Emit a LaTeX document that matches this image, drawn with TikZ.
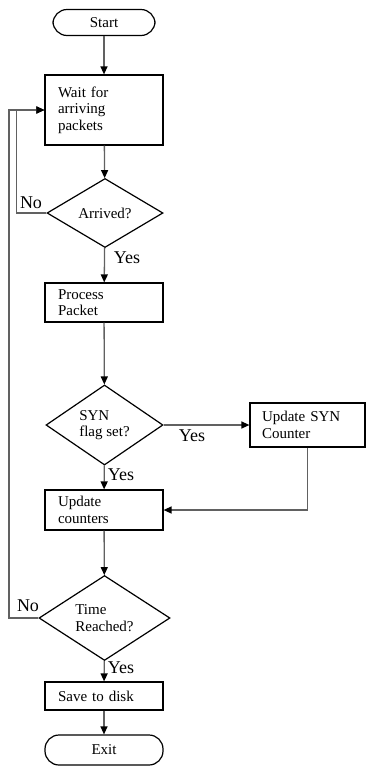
\documentclass[tikz,border=0pt]{standalone}
\usepackage{fontspec}
\setmainfont{Liberation Serif}
\usetikzlibrary{shapes.geometric,arrows.meta}

\tikzset{
  base/.style={draw=black, line width=1.2pt, inner sep=0pt, font=\fontsize{15}{16.5}\selectfont},
  procbox/.style={base, rectangle, minimum width=#1, align=left, text width=#1-26pt, inner xsep=13pt},
  term/.style={base, rectangle, rounded corners=14pt, minimum width=#1, align=center},
  decision/.style={base, diamond, align=center},
  flow/.style={draw=black!62, line width=1.3pt, -{Triangle[length=8pt,width=7pt,fill=black,color=black]}},
  ans/.style={inner sep=0pt, font=\fontsize{18}{20}\selectfont}
}

\begin{document}
\begin{tikzpicture}[x=1pt,y=-1pt]
\useasboundingbox (0,0) rectangle (366,769);

% nodes of the flow
\node[term=102pt, minimum height=26pt] (start) at (104,22.5) {Start};
\node[procbox=118pt, minimum height=70pt] (wait) at (104,110) {Wait for\\arriving\\packets};
\node[decision, minimum width=116pt, minimum height=69pt] (arr) at (105,213) {Arrived?};
\node[procbox=118pt, minimum height=39pt] (proc) at (104,302.5) {Process\\Packet};
\node[decision, align=left, minimum width=117pt, minimum height=76pt] (syn) at (104.5,425) {SYN\\flag set?};
\node[procbox=115pt, minimum height=44pt, inner xsep=12pt, text width=91pt] (upd) at (307.5,425) {Update SYN\\Counter};
\node[procbox=118pt, minimum height=40pt] (cnt) at (104,510) {Update\\counters};
\node[decision, align=left, minimum width=131pt, minimum height=80pt] (time) at (104.5,618) {Time\\Reached?};
\node[procbox=118pt, minimum height=28pt] (save) at (104,696) {Save to disk};
\node[term=118pt, minimum height=30pt] (exit) at (104,750) {Exit};

% main line
\draw[flow] (start) -- (wait);
\draw[flow] (wait) -- (arr);
\draw[flow] (arr) -- (proc);
\draw[flow] (proc) -- (syn);
\draw[flow] (syn) -- (cnt);
\draw[flow] (syn) -- (upd);
\draw[flow] (upd.south) |- (cnt.east);
\draw[flow] (cnt) -- (time);
\draw[flow] (time) -- (save);
\draw[flow] (save) -- (exit);

% loops back to waiting
\draw[flow] (arr.west) -- ++(-30,0) |- (wait.west);
\draw[flow] (time.west) -- ++(-29.5,0) |- (wait.west);

% answer labels
\node[ans] (arrno) at (31,203) {No};
\node[ans] (arryes) at (127,258) {Yes};
\node[ans] (synyes) at (192,436) {Yes};
\node[ans] (syndown) at (121,475) {Yes};
\node[ans] (timeno) at (28,606) {No};
\node[ans] (timeyes) at (121,668) {Yes};
\end{tikzpicture}
\end{document}
